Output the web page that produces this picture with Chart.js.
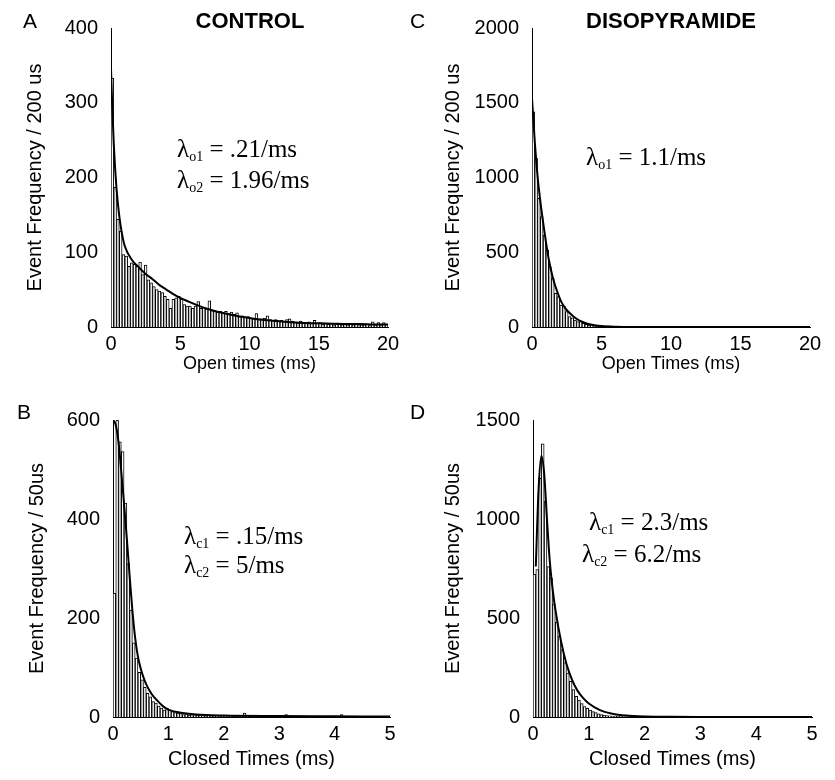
<!DOCTYPE html>
<html>
<head>
<meta charset="utf-8">
<script src="https://cdn.jsdelivr.net/npm/chart.js@4.4.1/dist/chart.umd.min.js"></script>
<style>
  body { margin: 0; background: #fff; }
  #page { position: relative; width: 835px; height: 780px; background: #fff; overflow: hidden; }
  canvas { position: absolute; }
  .lbl { position: absolute; font-family: "Liberation Sans", Arial, sans-serif; color: #000; white-space: nowrap; }
  .panel { font-size: 21px; }
  .title { font-size: 22px; font-weight: bold; transform: translateX(-50%); }
  .rate { position: absolute; font-family: "Liberation Serif", "Times New Roman", serif; font-size: 25px; line-height: 30px; color: #000; white-space: nowrap; }
  .rate sub { font-size: 14px; line-height: 0; vertical-align: -4px; }
</style>
</head>
<body>
<div id="page">
  <canvas id="chartA" width="410" height="390" style="left:0;top:0"></canvas>
  <canvas id="chartC" width="415" height="390" style="left:420px;top:0"></canvas>
  <canvas id="chartB" width="410" height="390" style="left:0;top:390px"></canvas>
  <canvas id="chartD" width="415" height="390" style="left:420px;top:390px"></canvas>

  <div class="lbl panel" style="left:23px;top:9px">A</div>
  <div class="lbl panel" style="left:410px;top:9px">C</div>
  <div class="lbl panel" style="left:17px;top:400px">B</div>
  <div class="lbl panel" style="left:410px;top:400px">D</div>
  <div class="lbl title" style="left:250px;top:8px">CONTROL</div>
  <div class="lbl title" style="left:671px;top:8px">DISOPYRAMIDE</div>

  <div class="rate" style="left:177px;top:134px">&lambda;<sub>o1</sub> = .21/ms</div>
  <div class="rate" style="left:177px;top:165px">&lambda;<sub>o2</sub> = 1.96/ms</div>
  <div class="rate" style="left:586px;top:142px">&lambda;<sub>o1</sub> = 1.1/ms</div>
  <div class="rate" style="left:184px;top:521px">&lambda;<sub>c1</sub> = .15/ms</div>
  <div class="rate" style="left:184px;top:550px">&lambda;<sub>c2</sub> = 5/ms</div>
  <div class="rate" style="left:589px;top:507px">&lambda;<sub>c1</sub> = 2.3/ms</div>
  <div class="rate" style="left:582px;top:539px">&lambda;<sub>c2</sub> = 6.2/ms</div>
</div>

<script>
// bin widths in ms
const openBinMs = 0.2;
const closedBinMs = 0.05;

// A: control, open times (events per 200 us bin, 0-20 ms)
const controlOpenCounts = [
  333, 187, 144, 128, 97, 95, 81, 86, 84, 81,
  87, 70, 83, 63, 59, 54, 50, 48, 46, 41,
  37, 25, 37, 39, 41, 37, 30, 28, 28, 25,
  28, 34, 25, 26, 24, 35, 22, 21, 20, 21,
  19, 21, 18, 20, 17, 19, 14, 15, 13, 14,
  12, 11, 18, 10, 11, 12, 15, 10, 9, 10,
  8, 9, 8, 10, 11, 8, 7, 6, 8, 5,
  6, 7, 5, 9, 5, 6, 4, 5, 4, 5,
  3, 4, 4, 3, 5, 3, 4, 3, 4, 2,
  3, 3, 4, 2, 7, 3, 6, 3, 6, 4
];
const controlOpenFitT = [0, 0.1, 0.2, 0.4, 0.6, 0.8, 1, 1.5, 2, 2.5, 3, 3.5, 4, 4.5, 5, 6, 7, 8, 9, 10, 11, 12, 13, 14, 15, 16, 17, 18, 19, 20];
const controlOpenFitY = [345, 290, 245, 185, 148, 124, 108, 90, 80, 71, 64, 56, 50, 44, 39, 31, 24, 19, 15, 12, 9.5, 8, 6.5, 5.5, 5, 4.5, 4, 4, 3.5, 3.5];

// C: disopyramide, open times
const drugOpenCounts = [
  1440, 1128, 860, 738, 615, 515, 403, 325, 225, 203,
  147, 140, 103, 69, 62, 47, 36, 36, 25, 18,
  12, 9, 7, 5, 4, 3, 2, 2, 1, 1,
  1, 1, 0, 1, 0, 0, 1, 0, 0, 0,
  0, 1, 0, 0, 0, 0, 0, 0, 0, 0,
  0, 0, 0, 0, 0, 0, 0, 0, 0, 0,
  0, 0, 0, 0, 0, 0, 0, 0, 0, 0,
  0, 0, 0, 0, 0, 0, 0, 0, 0, 1,
  0, 0, 0, 0, 0, 0, 0, 0, 0, 0,
  0, 0, 0, 0, 0, 0, 0, 0, 0, 0
];
const drugOpenFitT = [0, 0.2, 0.4, 0.6, 0.8, 1, 1.2, 1.5, 1.8, 2.1, 2.4, 2.8, 3.2, 3.6, 4, 4.5, 5, 6, 8, 12, 20];
const drugOpenFitY = [1530, 1240, 1010, 840, 700, 570, 455, 330, 240, 170, 125, 85, 55, 35, 22, 12, 6, 2, 0.5, 0, 0];

// B: control, closed times (events per 50 us bin, 0-5 ms)
const controlClosedCounts = [
  250, 600, 556, 536, 432, 310, 216, 150, 119, 90,
  75, 60, 48, 41, 31, 28, 22, 18, 14, 18,
  14, 11, 9, 8, 7, 5, 6, 4, 5, 3,
  4, 3, 3, 2, 3, 2, 2, 3, 2, 2,
  2, 2, 3, 2, 2, 1, 2, 8, 2, 1,
  2, 1, 2, 1, 1, 2, 1, 1, 1, 2,
  1, 1, 5, 1, 1, 1, 2, 1, 1, 1,
  1, 1, 2, 1, 1, 1, 1, 1, 2, 1,
  1, 1, 5, 1, 1, 1, 1, 1, 1, 1,
  1, 1, 1, 0, 1, 1, 1, 0, 1, 1
];
const controlClosedFitT = [0, 0.05, 0.1, 0.15, 0.2, 0.25, 0.3, 0.35, 0.4, 0.45, 0.5, 0.55, 0.6, 0.7, 0.8, 0.9, 1, 1.2, 1.5, 2, 3, 4, 5];
const controlClosedFitY = [600, 590, 555, 495, 430, 360, 285, 215, 160, 122, 98, 80, 66, 46, 33, 22, 15, 9, 5, 3, 2, 1.5, 1];

// D: disopyramide, closed times
const drugClosedCounts = [
  720, 745, 1205, 1380, 1090, 760, 700, 570, 480, 410,
  340, 275, 222, 180, 138, 105, 86, 68, 52, 44,
  35, 27, 22, 16, 12, 9, 7, 6, 5, 4,
  3, 3, 2, 2, 2, 1, 1, 1, 1, 1,
  1, 1, 1, 0, 1, 1, 0, 1, 0, 1,
  0, 1, 0, 0, 1, 0, 0, 0, 1, 0,
  0, 0, 0, 0, 0, 0, 0, 0, 0, 0,
  0, 0, 0, 0, 0, 0, 0, 0, 0, 0,
  0, 0, 0, 0, 0, 0, 0, 0, 0, 0,
  0, 0, 0, 0, 0, 0, 0, 0, 0, 0
];
const drugClosedFitT = [0.05, 0.1, 0.15, 0.2, 0.25, 0.3, 0.35, 0.4, 0.5, 0.6, 0.7, 0.8, 0.9, 1, 1.2, 1.4, 1.6, 1.8, 2, 2.5, 3, 5];
const drugClosedFitY = [760, 1150, 1320, 1230, 1000, 790, 650, 545, 385, 268, 188, 132, 95, 68, 35, 18, 9, 5, 3, 1, 0.5, 0];

const sans = '"Liberation Sans", Arial, sans-serif';

function drawHistogram(id, p) {
  const bars = p.counts.map((c, i) => ({ x: (i + 0.5) * p.bin, y: c }));
  const fit = p.fitT.map((t, i) => ({ x: t, y: p.fitY[i] }));

  return new Chart(document.getElementById(id), {
    type: 'bar',
    data: {
      datasets: [
        {
          type: 'line',
          data: fit,
          borderColor: '#000',
          borderWidth: 2,
          pointRadius: 0,
          cubicInterpolationMode: 'monotone',
          fill: false,
          order: 0
        },
        {
          type: 'bar',
          data: bars,
          backgroundColor: '#fff',
          borderColor: '#000',
          borderWidth: 1,
          borderSkipped: 'bottom',
          barPercentage: 1,
          categoryPercentage: 1,
          order: 1
        }
      ]
    },
    options: {
      responsive: false,
      animation: false,
      devicePixelRatio: 1,
      layout: { padding: { top: p.top, right: p.right, left: 0, bottom: 0 } },
      plugins: { legend: { display: false }, tooltip: { enabled: false } },
      scales: {
        x: {
          type: 'linear',
          min: 0,
          max: p.xMax,
          offset: false,
          grid: { display: false, drawTicks: false, offset: false },
          border: { display: true, color: '#000', width: 1 },
          ticks: {
            stepSize: p.xStep, autoSkip: false, maxRotation: 0, padding: 5,
            color: '#000', font: { family: sans, size: 20 },
            callback: v => String(v)
          },
          title: {
            display: true, text: p.xTitle, color: '#000',
            font: { family: sans, size: p.xTitleSize },
            padding: { top: 0, bottom: p.xTitlePad }
          },
          afterFit: s => { s.height = 63; }
        },
        y: {
          min: 0,
          max: p.yMax,
          grid: { display: false, drawTicks: false },
          border: { display: true, color: '#000', width: 1 },
          ticks: {
            stepSize: p.yStep, padding: 13,
            color: '#000', font: { family: sans, size: 20 },
            callback: v => String(v)
          },
          title: {
            display: true, text: p.yTitle, color: '#000',
            font: { family: sans, size: 20 },
            padding: { top: p.yTitlePad, bottom: 0 }
          },
          afterFit: s => { s.width = p.axisLeft; }
        }
      }
    }
  });
}

drawHistogram('chartA', {
  counts: controlOpenCounts, bin: openBinMs, fitT: controlOpenFitT, fitY: controlOpenFitY,
  xMax: 20, xStep: 5, yMax: 400, yStep: 100,
  xTitle: 'Open times (ms)', xTitleSize: 18, xTitlePad: 15,
  yTitle: 'Event Frequency / 200 us', yTitlePad: 23,
  axisLeft: 111, top: 28, right: 22
});

drawHistogram('chartC', {
  counts: drugOpenCounts, bin: openBinMs, fitT: drugOpenFitT, fitY: drugOpenFitY,
  xMax: 20, xStep: 5, yMax: 2000, yStep: 500,
  xTitle: 'Open Times (ms)', xTitleSize: 18, xTitlePad: 15,
  yTitle: 'Event Frequency / 200 us', yTitlePad: 21,
  axisLeft: 112, top: 28, right: 25
});

drawHistogram('chartB', {
  counts: controlClosedCounts, bin: closedBinMs, fitT: controlClosedFitT, fitY: controlClosedFitY,
  xMax: 5, xStep: 1, yMax: 600, yStep: 200,
  xTitle: 'Closed Times (ms)', xTitleSize: 20, xTitlePad: 9,
  yTitle: 'Event Frequency / 50us', yTitlePad: 25,
  axisLeft: 113, top: 30, right: 20
});

drawHistogram('chartD', {
  counts: drugClosedCounts, bin: closedBinMs, fitT: drugClosedFitT, fitY: drugClosedFitY,
  xMax: 5, xStep: 1, yMax: 1500, yStep: 500,
  xTitle: 'Closed Times (ms)', xTitleSize: 20, xTitlePad: 9,
  yTitle: 'Event Frequency / 50us', yTitlePad: 21,
  axisLeft: 113, top: 30, right: 23
});
</script>
</body>
</html>
